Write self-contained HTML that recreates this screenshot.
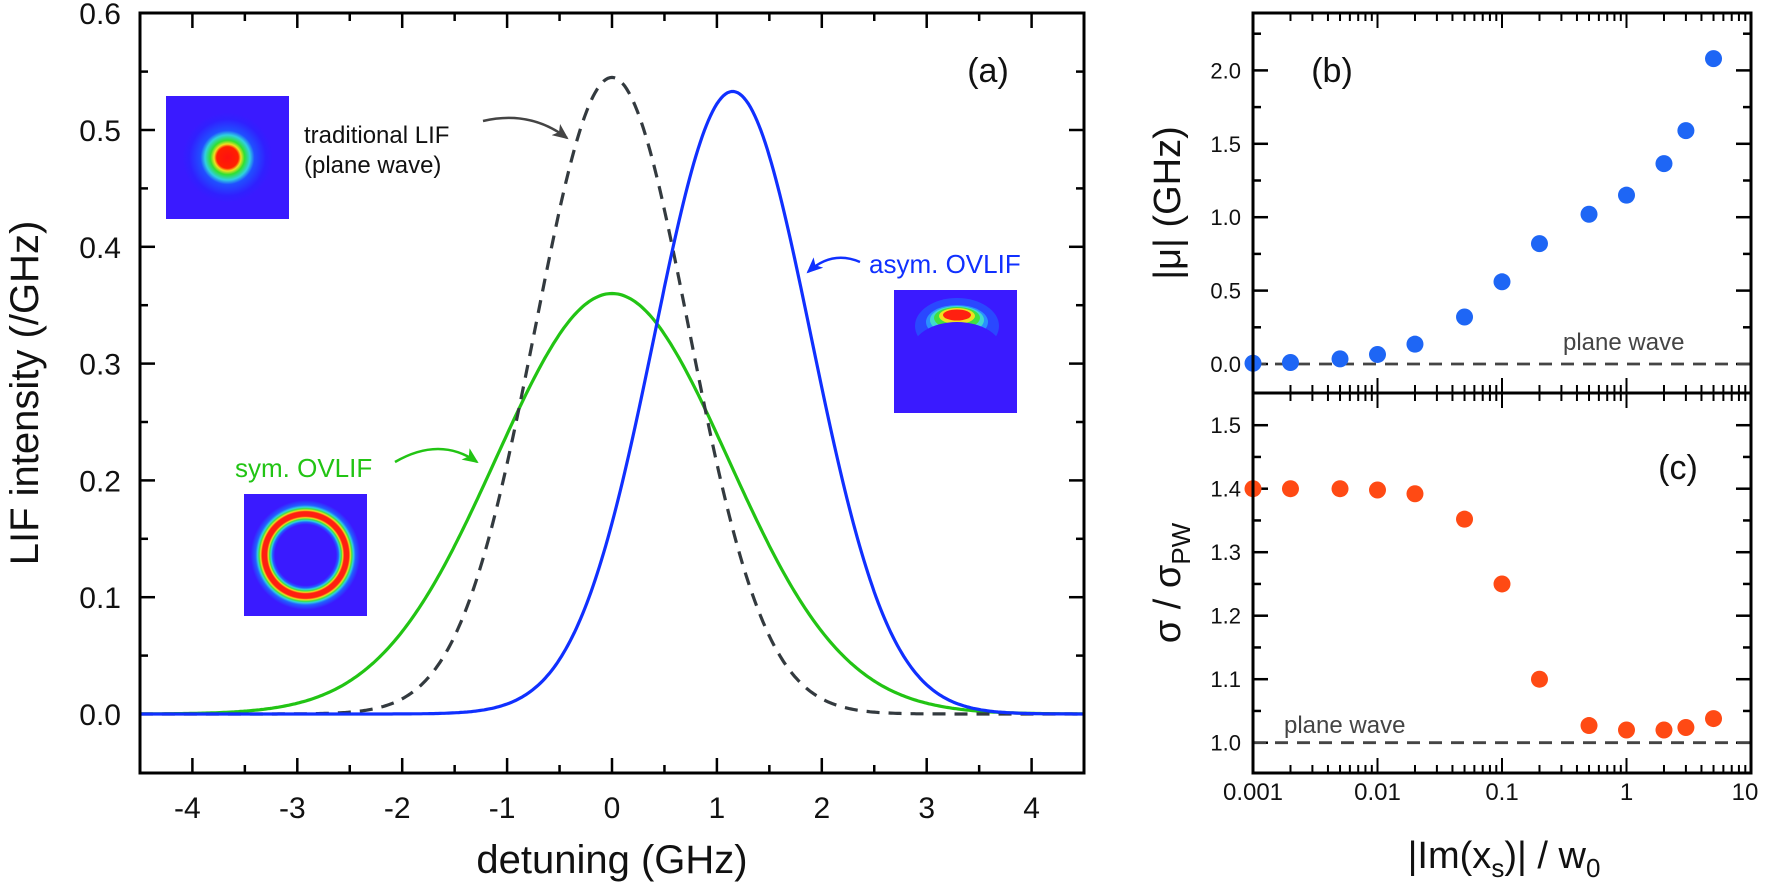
<!DOCTYPE html>
<html><head><meta charset="utf-8">
<style>
html,body{margin:0;padding:0;background:#fff;}
svg{display:block;font-family:"Liberation Sans",Arial,sans-serif;}
</style></head>
<body>
<svg id="s" width="1765" height="885" viewBox="0 0 1765 885" xmlns="http://www.w3.org/2000/svg">
<defs>
<radialGradient id="gau" cx="0.5" cy="0.5" r="0.5">
<stop offset="0" stop-color="#ff1010"/><stop offset="0.24" stop-color="#ff2000"/>
<stop offset="0.30" stop-color="#f0e020"/><stop offset="0.38" stop-color="#30e030"/>
<stop offset="0.50" stop-color="#30d0e0"/><stop offset="0.60" stop-color="#2050ff"/>
<stop offset="0.85" stop-color="#3020ff"/><stop offset="1" stop-color="#3a1aff"/>
</radialGradient>
<radialGradient id="ring" cx="0.5" cy="0.5" r="0.5">
<stop offset="0" stop-color="#3a1aff"/><stop offset="0.5" stop-color="#3a1aff"/>
<stop offset="0.54" stop-color="#2060ff"/><stop offset="0.565" stop-color="#30d0e0"/>
<stop offset="0.59" stop-color="#40e040"/><stop offset="0.61" stop-color="#f0e020"/>
<stop offset="0.635" stop-color="#ff2010"/><stop offset="0.71" stop-color="#ff2010"/>
<stop offset="0.735" stop-color="#f0e020"/><stop offset="0.76" stop-color="#40e040"/>
<stop offset="0.785" stop-color="#30d0e0"/><stop offset="0.82" stop-color="#2060ff"/>
<stop offset="0.9" stop-color="#3a1aff"/><stop offset="1" stop-color="#3a1aff"/>
</radialGradient>
<clipPath id="box3"><rect x="894" y="290" width="123" height="123"/></clipPath>
<marker id="ahk" markerWidth="16" markerHeight="14" refX="14" refY="7" orient="auto" markerUnits="userSpaceOnUse"><path d="M0,0 L16,7 L0,14 L4,7 Z" fill="#444"/></marker>
<marker id="ahg" markerWidth="16" markerHeight="14" refX="14" refY="7" orient="auto" markerUnits="userSpaceOnUse"><path d="M0,0 L16,7 L0,14 L4,7 Z" fill="#22c414"/></marker>
<marker id="ahb" markerWidth="16" markerHeight="14" refX="14" refY="7" orient="auto" markerUnits="userSpaceOnUse"><path d="M0,0 L16,7 L0,14 L4,7 Z" fill="#1030ff"/></marker>
</defs>
<g id="g"></g>

<!-- insets -->
<rect x="166" y="96" width="123" height="123" fill="#3a1aff"/>
<circle cx="227.5" cy="157.5" r="45" fill="url(#gau)"/>
<rect x="244" y="494" width="123" height="122" fill="#3a1aff"/>
<circle cx="305.5" cy="555" r="61" fill="url(#ring)"/>
<rect x="894" y="290" width="123" height="123" fill="#3a1aff"/>
<g clip-path="url(#box3)">
<ellipse cx="957" cy="326" rx="42" ry="28" fill="#2a48ff"/>
<ellipse cx="957" cy="322" rx="31" ry="17" fill="#2a90ff"/>
<ellipse cx="957" cy="320" rx="27" ry="14" fill="#40d8d0"/>
<ellipse cx="957" cy="318" rx="23" ry="11" fill="#40e040"/>
<ellipse cx="957" cy="316" rx="18" ry="8" fill="#f0e020"/>
<ellipse cx="957" cy="315" rx="14" ry="5.5" fill="#ff2010"/>
<ellipse cx="957" cy="352" rx="46" ry="30" fill="#3a1aff"/>
</g>

<!-- annotations -->
<text x="304" y="143" font-size="24" fill="#111">traditional LIF</text>
<text x="304" y="173" font-size="24" fill="#111">(plane wave)</text>
<path d="M483,121 Q530,110 567,138" fill="none" stroke="#444" stroke-width="2.5" marker-end="url(#ahk)"/>
<text x="235" y="477" font-size="26" fill="#22c414">sym. OVLIF</text>
<path d="M395,462 Q440,436 477,462" fill="none" stroke="#22c414" stroke-width="2.5" marker-end="url(#ahg)"/>
<text x="869" y="273" font-size="26" fill="#1030ff">asym. OVLIF</text>
<path d="M860,262 Q832,250 808,272" fill="none" stroke="#1030ff" stroke-width="2.5" marker-end="url(#ahb)"/>

<text x="988" y="82" font-size="34" text-anchor="middle" fill="#111">(a)</text>
<text x="1332" y="82" font-size="34" text-anchor="middle" fill="#111">(b)</text>
<text x="1678" y="479" font-size="34" text-anchor="middle" fill="#111">(c)</text>
<text x="1563" y="350" font-size="24" fill="#444">plane wave</text>
<text x="1284" y="733" font-size="24" fill="#444">plane wave</text>

<!-- axis titles -->
<text x="612" y="873" font-size="40" text-anchor="middle" fill="#111">detuning (GHz)</text>
<text transform="translate(38,393) rotate(-90)" font-size="40" text-anchor="middle" fill="#111">LIF intensity (/GHz)</text>
<text x="1504" y="868" font-size="38" text-anchor="middle" fill="#111">|Im(x<tspan font-size="26" dy="9">s</tspan><tspan dy="-9">)| / w</tspan><tspan font-size="26" dy="9">0</tspan></text>
<text transform="translate(1180,203) rotate(-90)" font-size="38" text-anchor="middle" fill="#111">|μ| (GHz)</text>
<text transform="translate(1180,583) rotate(-90)" font-size="38" text-anchor="middle" fill="#111">σ / σ<tspan font-size="26" dy="10">PW</tspan></text>
</svg>
<script>
var NS="http://www.w3.org/2000/svg",G=document.getElementById("g");
function el(t,a,txt){var e=document.createElementNS(NS,t);for(var k in a)e.setAttribute(k,a[k]);if(txt!=null)e.textContent=txt;G.appendChild(e);return e;}
function line(x1,y1,x2,y2,w,c){return el("line",{x1:x1,y1:y1,x2:x2,y2:y2,stroke:c||"#000","stroke-width":w||2.5});}
// Panel a
var L=140,R=1084,T=13,B=773;
function X(v){return 612+104.9*v;} function Y(v){return 714-1168*v;}
for(var i=-8;i<=8;i++){var x=X(i/2),len=(i%2==0)?15:8;line(x,B,x,B-len);line(x,T,x,T+len);
 if(i%2==0)el("text",{x:x+(i<0?-5:0),y:818,"font-size":30,"text-anchor":"middle",fill:"#111"},(i<0?"-":"")+Math.abs(i/2));}
for(var j=0;j<=12;j++){var y=Y(j/20),len=(j%2==0)?15:8;line(L,y,L+len,y);line(R,y,R-len,y);
 if(j%2==0)el("text",{x:121,y:y+11,"font-size":30,"text-anchor":"end",fill:"#111"},(j/20).toFixed(1));}
function gpath(mu,s,A){var d="";for(var v=-4.5;v<=4.5001;v+=0.02){var f=A*Math.exp(-(v-mu)*(v-mu)/(2*s*s));d+=(d?"L":"M")+X(v).toFixed(1)+","+Y(f).toFixed(1);}return d;}
el("path",{d:gpath(0,1.108,0.36),fill:"none",stroke:"#22c414","stroke-width":3.2});
el("path",{d:gpath(0,0.732,0.545),fill:"none",stroke:"#333a3f","stroke-width":3.2,"stroke-dasharray":"13,9"});
el("path",{d:gpath(1.15,0.748,0.533),fill:"none",stroke:"#1030ff","stroke-width":3.2});
el("rect",{x:L,y:T,width:R-L,height:B-T,fill:"none",stroke:"#000","stroke-width":3});
// Panels b,c
var L2=1253,R2=1751,M=393;
function LX(v){return L2+124.5*(Math.log10(v)+3);}
function YB(v){return 364-146.8*v;} function YC(v){return 742.7-635*(v-1);}
for(var dc=-3;dc<=0;dc++)for(var m=1;m<=9;m++){var v=m*Math.pow(10,dc);var x=LX(v);if(x>R2+1)continue;var len=(m==1)?15:8;
 line(x,T,x,T+len,2);line(x,M,x,M+len,2);line(x,M,x,M-len,2);line(x,B,x,B-len,2);
 if(m==1)el("text",{x:x,y:800,"font-size":24,"text-anchor":"middle",fill:"#111"},["0.001","0.01","0.1","1"][dc+3]);}
el("text",{x:R2-6,y:800,"font-size":24,"text-anchor":"middle",fill:"#111"},"10");
for(var k=-1;k<=9;k++){var v=k*0.25,y=YB(v);if(y>M-2||y<T+2)continue;var len=(k%2==0)?15:8;line(L2,y,L2+len,y);line(R2,y,R2-len,y);
 if(k%2==0&&k>=0)el("text",{x:1241,y:y+8,"font-size":22,"text-anchor":"end",fill:"#111"},v.toFixed(1));}
for(var k=19;k<=31;k++){var v=k*0.05,y=YC(v);if(y>B-2||y<M+2)continue;var len=(k%2==0)?15:8;line(L2,y,L2+len,y);line(R2,y,R2-len,y);
 if(k%2==0)el("text",{x:1241,y:y+8,"font-size":22,"text-anchor":"end",fill:"#111"},v.toFixed(1));}
line(L2,364,R2,364,2.8,"#444").setAttribute("stroke-dasharray","13,9");
line(L2,742.7,R2,742.7,2.8,"#444").setAttribute("stroke-dasharray","13,9");
var xs=[0.001,0.002,0.005,0.01,0.02,0.05,0.1,0.2,0.5,1,2,3,5];
var mu=[0.005,0.01,0.035,0.065,0.135,0.32,0.56,0.82,1.02,1.15,1.365,1.59,2.08];
var sg=[1.40,1.40,1.40,1.398,1.392,1.352,1.25,1.10,1.027,1.02,1.02,1.024,1.038];
for(var i=0;i<xs.length;i++){el("circle",{cx:LX(xs[i]),cy:YB(mu[i]),r:8.5,fill:"#1e66f5"});el("circle",{cx:LX(xs[i]),cy:YC(sg[i]),r:8.5,fill:"#ff4a14"});}
el("rect",{x:L2,y:T,width:R2-L2,height:B-T,fill:"none",stroke:"#000","stroke-width":3});
line(L2,M,R2,M,3);
</script>
</body></html>
